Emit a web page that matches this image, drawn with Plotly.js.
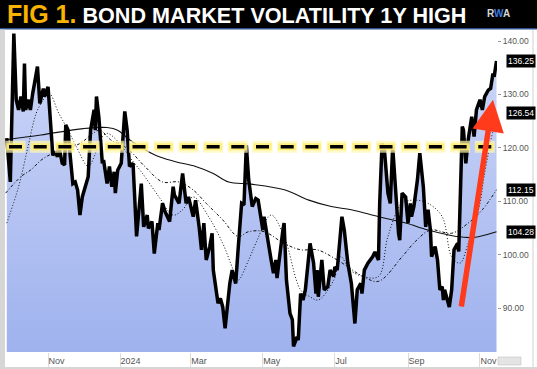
<!DOCTYPE html>
<html>
<head>
<meta charset="utf-8">
<script src="https://cdn.plot.ly/plotly-3.0.1.min.js"></script>
<style>
html,body{margin:0;padding:0;background:#fff;}
#chart{width:537px;height:369px;}
</style>
</head>
<body>
<div id="chart"></div>
<script>
// ---- data ----
const priceDates = [
'2023-09-27','2023-09-30','2023-10-03','2023-10-05','2023-10-07','2023-10-09','2023-10-11','2023-10-12','2023-10-13','2023-10-15','2023-10-17','2023-10-19','2023-10-23','2023-10-24','2023-10-25','2023-10-28','2023-10-29',
'2023-11-01','2023-11-02','2023-11-05','2023-11-07','2023-11-09','2023-11-10','2023-11-13','2023-11-15','2023-11-16','2023-11-18','2023-11-19','2023-11-22','2023-11-24','2023-11-26','2023-11-28','2023-11-30',
'2023-12-03','2023-12-05','2023-12-07','2023-12-10','2023-12-11','2023-12-12','2023-12-14','2023-12-15','2023-12-17','2023-12-18','2023-12-21','2023-12-23','2023-12-25','2023-12-27','2023-12-28','2023-12-30',
'2024-01-02','2024-01-05','2024-01-07','2024-01-09','2024-01-12','2024-01-15','2024-01-19','2024-01-21','2024-01-24','2024-01-25','2024-01-28','2024-01-30',
'2024-02-02','2024-02-03','2024-02-06','2024-02-08','2024-02-12','2024-02-15','2024-02-16','2024-02-20','2024-02-21','2024-02-23','2024-02-26','2024-02-28',
'2024-03-03','2024-03-05','2024-03-08','2024-03-10','2024-03-12','2024-03-14','2024-03-17','2024-03-19','2024-03-20','2024-03-24','2024-03-26','2024-03-28','2024-03-30',
'2024-04-03','2024-04-05','2024-04-08','2024-04-10','2024-04-13','2024-04-15','2024-04-17','2024-04-19','2024-04-22','2024-04-25','2024-04-27',
'2024-05-01','2024-05-02','2024-05-08','2024-05-10','2024-05-12','2024-05-13','2024-05-18','2024-05-19','2024-05-21','2024-05-24','2024-05-26','2024-05-27','2024-05-30','2024-05-31',
'2024-06-02','2024-06-04','2024-06-06','2024-06-10','2024-06-13','2024-06-15','2024-06-16','2024-06-17','2024-06-20','2024-06-22','2024-06-25','2024-06-27','2024-06-30',
'2024-07-01','2024-07-03','2024-07-07','2024-07-09','2024-07-12','2024-07-15','2024-07-18','2024-07-20','2024-07-23','2024-07-24','2024-07-26','2024-07-29',
'2024-08-02','2024-08-04','2024-08-07','2024-08-08','2024-08-10','2024-08-12','2024-08-15','2024-08-17','2024-08-19','2024-08-24','2024-08-25','2024-08-27','2024-08-30',
'2024-09-01','2024-09-03','2024-09-04','2024-09-06','2024-09-09','2024-09-11','2024-09-14','2024-09-16','2024-09-18','2024-09-20','2024-09-21','2024-09-24','2024-09-26','2024-09-28','2024-09-30',
'2024-10-01','2024-10-02','2024-10-05','2024-10-06','2024-10-08','2024-10-10','2024-10-13','2024-10-14','2024-10-17','2024-10-18','2024-10-20','2024-10-22','2024-10-25','2024-10-27','2024-10-29',
'2024-11-01','2024-11-03','2024-11-05','2024-11-08','2024-11-10','2024-11-12','2024-11-13','2024-11-15'
];
const priceValues = [
121.8,113.6,141.4,129.0,127.1,129.6,126.8,135.8,127.1,129.0,127.1,130.2,135.2,132.1,128.3,131.1,129.6,
131.4,128.6,118.6,119.3,118.3,120.5,117.1,116.8,124.3,123.3,120.2,113.3,113.6,112.1,107.4,110.8,
113.3,114.6,123.3,127.1,123.3,129.6,125.8,123.3,117.1,117.7,113.3,116.5,112.7,115.5,111.5,115.8,
117.1,126.8,123.3,116.5,117.1,103.4,113.3,105.2,107.4,104.9,106.2,100.2,
105.9,104.6,109.6,108.1,106.2,112.7,111.2,109.6,111.5,115.2,109.6,110.8,
107.1,110.2,105.2,100.9,105.9,99.0,101.5,104.0,97.1,90.9,91.8,90.2,86.2,
94.6,97.1,94.6,100.9,109.6,109.3,120.5,114.0,109.0,110.5,110.2,
104.6,107.1,99.0,96.5,99.0,95.6,104.6,105.9,95.2,89.0,87.8,82.8,84.6,84.0,
92.7,91.5,93.4,102.1,98.4,92.7,97.1,92.1,99.0,93.4,94.0,97.1,95.9,
97.7,97.1,107.1,104.6,98.4,94.6,87.1,93.4,94.6,92.7,97.1,98.4,
99.6,100.5,99.0,109.6,120.8,119.6,111.5,109.6,120.2,104.0,102.7,111.5,110.8,
105.9,109.6,107.1,109.0,114.0,119.0,112.7,105.2,108.4,104.6,99.6,101.5,99.0,93.4,94.0,
91.5,93.4,90.9,90.2,93.4,100.9,102.1,100.6,124.0,123.3,117.1,121.5,125.8,122.1,127.1,
129.0,127.1,129.6,130.8,131.1,133.9,133.3,136.25
];

const slowDates = ['2023-09-26','2023-10-26','2023-12-01','2023-12-21','2023-12-30','2024-01-09','2024-01-31','2024-02-17','2024-03-05','2024-03-20','2024-04-02','2024-04-21','2024-05-20','2024-06-09','2024-06-28','2024-07-15','2024-08-07','2024-08-30','2024-09-18','2024-10-12','2024-10-26','2024-11-15'];
const slowValues = [121.5,122.4,123.6,123.8,123.3,121.5,118.6,117.4,116.5,115.2,113.6,113.2,112.1,110.2,109.0,108.4,107.1,105.9,104.6,103.4,103.2,104.28];

const midDates = ['2023-09-26','2023-10-09','2023-10-17','2023-10-28','2023-11-12','2023-11-28','2023-12-09','2023-12-15','2023-12-24','2024-01-07','2024-01-22','2024-02-06','2024-02-20','2024-03-03','2024-03-14','2024-03-28','2024-04-10','2024-04-19','2024-05-02','2024-05-19','2024-06-02','2024-06-16','2024-07-03','2024-07-25','2024-08-07','2024-08-27','2024-09-07','2024-09-20','2024-10-08','2024-10-22','2024-11-03','2024-11-15'];
const midValues = [111.5,114.6,115.8,118.0,119.6,120.8,122.7,123.3,121.5,119.9,116.5,113.6,113.6,112.1,109.6,106.5,103.4,104.3,104.3,102.1,100.9,100.9,99.0,95.9,95.0,99.6,102.4,104.6,104.0,105.9,108.4,112.15];

const fastDates = ['2023-09-27','2023-10-07','2023-10-15','2023-10-22','2023-10-28','2023-11-02','2023-11-10','2023-11-18','2023-11-25','2023-12-05','2023-12-10','2023-12-15','2023-12-21','2024-01-02','2024-01-09','2024-01-20','2024-02-03','2024-02-15','2024-02-23','2024-03-03','2024-03-16','2024-03-28','2024-04-06','2024-04-10','2024-04-19','2024-04-25','2024-05-08','2024-05-19','2024-06-02','2024-06-10','2024-06-17','2024-06-30','2024-07-06','2024-07-14','2024-07-25','2024-08-07','2024-08-15','2024-08-27','2024-09-07','2024-09-18','2024-09-30','2024-10-08','2024-10-15','2024-10-22','2024-11-01','2024-11-04','2024-11-09','2024-11-15'];
const fastValues = [105.9,112.7,120.2,126.5,129.0,130.2,126.5,123.3,120.2,116.5,118.3,121.5,122.7,120.5,118.3,115.2,110.8,107.4,108.4,110.8,107.1,102.1,97.1,95.2,99.0,102.1,107.4,103.4,93.4,92.1,91.5,95.2,99.6,97.1,95.9,95.9,103.4,109.6,110.2,109.6,107.1,99.6,98.4,102.1,109.6,114.0,120.0,126.54];

const resistanceLevel = 120.2;
const arrowFrom = {date: '2024-10-16', value: 90.0};
const arrowTo = {date: '2024-11-12', value: 129.0};

const tickDates = ['2023-11-01','2024-01-01','2024-03-01','2024-05-01','2024-07-01','2024-09-01','2024-11-01'];
const tickLabels = ['Nov','2024','Mar','May','Jul','Sep','Nov'];
const yTicks = [90,100,110,120,130,140];

const titleLead = 'FIG 1.';
const titleText = 'BOND MARKET VOLATILITY 1Y HIGH';

// ---- chart ----
const sans = '"Liberation Sans", Arial, sans-serif';
const yRange = [81.76, 142.06];

const traces = [
  {
    x: priceDates, y: priceValues, type: 'scatter', mode: 'lines',
    fill: 'tozeroy',
    fillgradient: {type: 'vertical', start: yRange[0], stop: 142,
      colorscale: [[0, '#9fb2ee'], [1, '#cfd8f8']]},
    line: {width: 0, color: 'rgba(0,0,0,0)'}, hoverinfo: 'skip'
  },
  {x: slowDates, y: slowValues, type: 'scatter', mode: 'lines',
    line: {color: '#111', width: 1.1, shape: 'spline'}},
  {x: midDates, y: midValues, type: 'scatter', mode: 'lines',
    line: {color: '#111', width: 1, dash: '3px,2px,1px,2px', shape: 'spline'}},
  {x: fastDates, y: fastValues, type: 'scatter', mode: 'lines',
    line: {color: '#111', width: 1, dash: '1px,2px', shape: 'spline'}},
  {x: priceDates, y: priceValues, type: 'scatter', mode: 'lines',
    line: {color: '#000', width: 3.5}}
];

const lastLabels = [priceValues[priceValues.length-1], fastValues[fastValues.length-1], midValues[midValues.length-1], slowValues[slowValues.length-1]];

const annotations = [
  {xref: 'paper', yref: 'paper', x: 0, y: 1.0497, xanchor: 'left', yanchor: 'middle', showarrow: false,
   text: '<b><span style="color:#f8b400;font-size:25px">' + titleLead + '</span> ' + titleText + '</b>',
   font: {family: sans, size: 21.6, color: '#ffffff'}},
  {xref: 'paper', yref: 'paper', x: 1.004, y: 1.0497, xanchor: 'center', yanchor: 'middle', showarrow: false,
   text: '<b>R<span style="color:#3d7be0">W</span>A</b>',
   font: {family: sans, size: 10, color: '#d8d8d8'}},
  {xref: 'x', yref: 'y', axref: 'x', ayref: 'y', x: arrowTo.date, y: arrowTo.value,
   ax: arrowFrom.date, ay: arrowFrom.value, text: '', showarrow: true,
   arrowcolor: '#ff3b1c', arrowwidth: 5.5, arrowhead: 2, arrowsize: 1.15}
].concat(lastLabels.map(v => ({
   xref: 'paper', yref: 'y', x: 1, y: v, xanchor: 'left', yanchor: 'middle', xshift: 9,
   showarrow: false, text: v.toFixed(2), bgcolor: '#000', borderpad: 1,
   font: {family: sans, size: 8.5, color: '#fff'}
})));

const px = v => (v - 5) / 492;     // helper for frame shapes (paper x)
const py = v => (352 - v) / 322;   // helper for frame shapes (paper y)

const shapes = [
  {type: 'rect', xref: 'paper', yref: 'paper', x0: px(0), x1: px(537), y0: py(28), y1: py(-2), fillcolor: '#000', line: {width: 0}},
  {type: 'rect', xref: 'paper', yref: 'paper', x0: px(0), x1: px(537), y0: py(29.5), y1: py(28), fillcolor: '#2f4f8f', line: {width: 0}},
  {type: 'rect', xref: 'paper', yref: 'paper', x0: px(0), x1: px(5), y0: py(370), y1: py(29.5), fillcolor: '#d6d6d6', line: {width: 0}},
  {type: 'rect', xref: 'paper', yref: 'paper', x0: px(0), x1: px(537), y0: py(370), y1: py(367), fillcolor: '#d6d6d6', line: {width: 0}},
  {type: 'line', xref: 'paper', yref: 'paper', x0: px(533), x1: px(533), y0: py(367), y1: py(30), line: {color: '#d0d0d0', width: 1}},
  {type: 'rect', xref: 'paper', yref: 'paper', x0: px(498), x1: px(521), y0: py(365), y1: py(357), fillcolor: '#e4e4e4', line: {color: '#b8b8b8', width: 0.5}},
  {type: 'line', xref: 'paper', yref: 'y', x0: px(5.5), x1: 1, y0: resistanceLevel, y1: resistanceLevel,
   line: {color: 'rgba(255,248,175,0.7)', width: 12, dash: '20px,4.7px'}},
  {type: 'line', xref: 'paper', yref: 'y', x0: px(6.5), x1: 1, y0: resistanceLevel, y1: resistanceLevel,
   line: {color: 'rgba(255,236,110,0.85)', width: 7, dash: '18px,6.7px'}},
  {type: 'line', xref: 'paper', yref: 'y', x0: px(9), x1: 1, y0: resistanceLevel, y1: resistanceLevel,
   line: {color: '#000', width: 3.6, dash: '13px,11.7px'}}
];

const layout = {
  width: 537, height: 369,
  margin: {l: 5, r: 40, t: 30, b: 17, pad: 0},
  paper_bgcolor: '#ffffff', plot_bgcolor: '#ffffff',
  showlegend: false,
  xaxis: {
    type: 'date', range: ['2023-09-25 12:00', '2024-11-15 10:00'],
    tickmode: 'array', tickvals: tickDates, ticktext: tickLabels,
    ticks: 'outside', ticklen: 15, tickwidth: 1, tickcolor: '#dcdcdc',
    ticklabelposition: 'outside right', ticklabelstandoff: 0,
    tickfont: {family: sans, size: 9, color: '#555'},
    showgrid: false, zeroline: false, showline: false, fixedrange: true
  },
  yaxis: {
    side: 'right', range: yRange,
    tickmode: 'array', tickvals: yTicks, tickformat: '.2f',
    ticks: 'outside', ticklen: 3, tickcolor: '#999',
    tickfont: {family: sans, size: 8.5, color: '#555'},
    showgrid: false, zeroline: false, showline: false, fixedrange: true
  },
  shapes: shapes,
  annotations: annotations
};

Plotly.newPlot('chart', traces, layout, {displayModeBar: false, staticPlot: true});
</script>
</body>
</html>
